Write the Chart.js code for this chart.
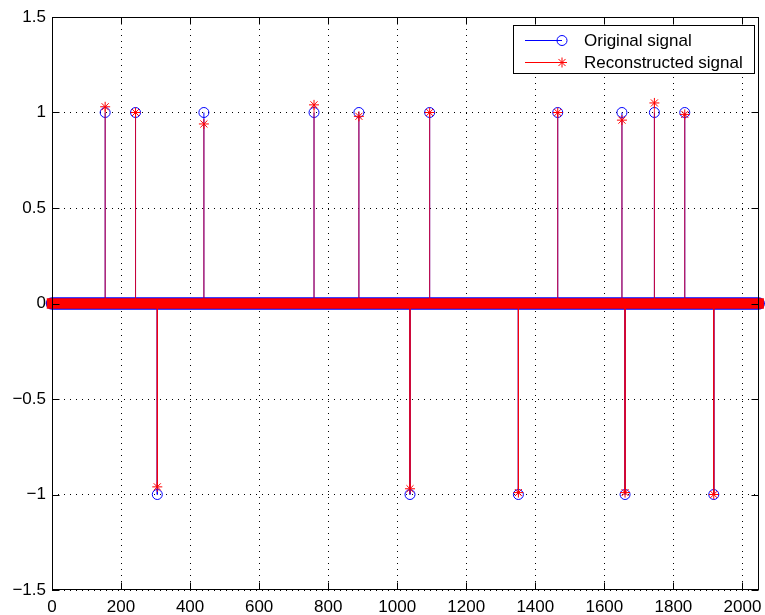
<!DOCTYPE html>
<html><head><meta charset="utf-8">
<script src="https://cdn.jsdelivr.net/npm/chart.js@4.4.1/dist/chart.umd.min.js"></script>
<style>html,body{margin:0;padding:0;background:#fff;}#wrap{width:765px;height:615px;position:relative;}</style>
</head><body><div id="wrap"><canvas id="c" width="765" height="615"></canvas></div>
<script>
const seriesNames = ['Original signal', 'Reconstructed signal'];
const spikePositions = [154, 242, 305, 440, 759, 889, 1037, 1094, 1351, 1465, 1651, 1660, 1745, 1833, 1917];
const originalValues = [1, 1, -1, 1, 1, 1, -1, 1, -1, 1, 1, -1, 1, 1, -1];
const reconstructedValues = [1.03, 1.0, -0.96, 0.94, 1.04, 0.98, -0.97, 1.0, -0.99, 1.0, 0.96, -0.99, 1.05, 0.99, -1.0];
const sampleRange = [0, 2047];
const xTicks = [0, 200, 400, 600, 800, 1000, 1200, 1400, 1600, 1800, 2000];
const yTicks = [-1.5, -1, -0.5, 0, 0.5, 1, 1.5];
const xLimits = [0, 2048];
const yLimits = [-1.5, 1.5];

const BLUE = '#0000ff', RED = '#ff0000';
const FONT = {family: '"Liberation Sans", Arial, Helvetica, sans-serif', size: 17};

function stemData(vals) {
  const out = [];
  spikePositions.forEach((p, i) => {
    out.push({x: p, y: 0}, {x: p, y: vals[i]}, {x: p, y: null});
  });
  return out;
}
function markerData(vals) { return spikePositions.map((p, i) => ({x: p, y: vals[i]})); }
const baseline = sampleRange.map(x => ({x, y: 0}));

const frame = {
  id: 'frame',
  afterDraw(chart) {
    const {ctx, chartArea: a, scales: {x, y}} = chart;
    ctx.save();
    ctx.strokeStyle = '#000'; ctx.lineWidth = 1;
    const L = Math.round(a.left) + 0.5, R = Math.round(a.right) - 0.5, T = Math.round(a.top) + 0.5, B = Math.round(a.bottom) - 0.5;
    ctx.strokeRect(L, T, R - L, B - T);
    const t = 7;
    ctx.beginPath();
    xTicks.forEach(v => { const px = Math.round(x.getPixelForValue(v)) + 0.5; ctx.moveTo(px, B); ctx.lineTo(px, B - t); ctx.moveTo(px, T); ctx.lineTo(px, T + t); });
    yTicks.forEach(v => { const py = Math.round(y.getPixelForValue(v)) + 0.5; ctx.moveTo(L, py); ctx.lineTo(L + t, py); ctx.moveTo(R, py); ctx.lineTo(R - t, py); });
    ctx.stroke();
    // legend
    const x0 = 513.5, y0 = 25.5, w = 241, h = 48;
    ctx.fillStyle = '#fff'; ctx.fillRect(x0, y0, w, h);
    ctx.strokeRect(x0, y0, w, h);
    const rows = [{y: 40, c: BLUE, m: 'o'}, {y: 62, c: RED, m: '*'}];
    rows.forEach((r, i) => {
      ctx.strokeStyle = r.c; ctx.lineWidth = 1;
      ctx.beginPath(); ctx.moveTo(525, r.y + 0.5); ctx.lineTo(562, r.y + 0.5); ctx.stroke();
      ctx.beginPath();
      if (r.m === 'o') { ctx.arc(562, r.y + 0.5, 5, 0, Math.PI * 2); }
      else {
        const s = 5, d = s * 0.7071;
        ctx.moveTo(562 - s, r.y + 0.5); ctx.lineTo(562 + s, r.y + 0.5);
        ctx.moveTo(562, r.y + 0.5 - s); ctx.lineTo(562, r.y + 0.5 + s);
        ctx.moveTo(562 - d, r.y + 0.5 - d); ctx.lineTo(562 + d, r.y + 0.5 + d);
        ctx.moveTo(562 - d, r.y + 0.5 + d); ctx.lineTo(562 + d, r.y + 0.5 - d);
      }
      ctx.stroke();
      ctx.fillStyle = '#000'; ctx.font = '17px ' + FONT.family; ctx.textBaseline = 'middle'; ctx.textAlign = 'left';
      ctx.fillText(chart.data.datasets.find(d => d.legendRow === i).label, 584, r.y + 1);
    });
    ctx.restore();
  }
};

const fmt = v => String(v).replace('-', '\u2212');

new Chart(document.getElementById('c'), {
  type: 'scatter',
  data: {
    datasets: [
      {label: 'zeros-o', data: baseline, showLine: true, borderColor: BLUE, borderWidth: 12.5, borderCapStyle: 'round', pointRadius: 0, clip: false, order: 10},
      {label: seriesNames[0], legendRow: 0, data: stemData(originalValues), showLine: true, spanGaps: false, borderColor: BLUE, borderWidth: 1, pointRadius: 0, order: 9},
      {label: 'o-markers', data: markerData(originalValues), showLine: false, pointStyle: 'circle', pointRadius: 5, pointBorderWidth: 1, pointBorderColor: BLUE, pointBackgroundColor: 'rgba(0,0,0,0)', clip: false, order: 8},
      {label: 'zeros-r', data: baseline, showLine: true, borderColor: RED, borderWidth: 10.5, borderCapStyle: 'square', pointRadius: 0, clip: false, order: 7},
      {label: seriesNames[1], legendRow: 1, data: stemData(reconstructedValues), showLine: true, spanGaps: false, borderColor: 'rgba(255,0,0,0.8)', borderWidth: 1, pointRadius: 0, order: 6},
      {label: 'r-markers', data: markerData(reconstructedValues), showLine: false, pointStyle: 'star', pointRadius: 5, pointBorderWidth: 1, pointBorderColor: RED, pointBackgroundColor: RED, clip: false, order: 5}
    ]
  },
  options: {
    responsive: false, animation: false, events: [],
    layout: {padding: {top: 17, right: 3.5, left: 0, bottom: 0}},
    plugins: {legend: {display: false}, tooltip: {enabled: false}},
    scales: {
      x: {
        type: 'linear', min: xLimits[0], max: xLimits[1],
        afterBuildTicks: s => { s.ticks = xTicks.map(v => ({value: v})); },
        afterFit: s => { s.height = 25; s.paddingLeft = 0; s.paddingRight = 0; },
        grid: {color: '#000', lineWidth: 1, drawTicks: false},
        border: {display: false, dash: [1, 5]},
        ticks: {color: '#000', font: FONT, padding: 7, maxRotation: 0, autoSkip: false, callback: fmt}
      },
      y: {
        type: 'linear', min: yLimits[0], max: yLimits[1],
        afterBuildTicks: s => { s.ticks = yTicks.map(v => ({value: v})); },
        afterFit: s => { s.width = 52; s.paddingTop = 0; s.paddingBottom = 0; },
        grid: {color: '#000', lineWidth: 1, drawTicks: false},
        border: {display: false, dash: [1, 5]},
        ticks: {color: '#000', font: FONT, padding: 6, callback: fmt}
      }
    }
  },
  plugins: [frame]
});
</script></body></html>
